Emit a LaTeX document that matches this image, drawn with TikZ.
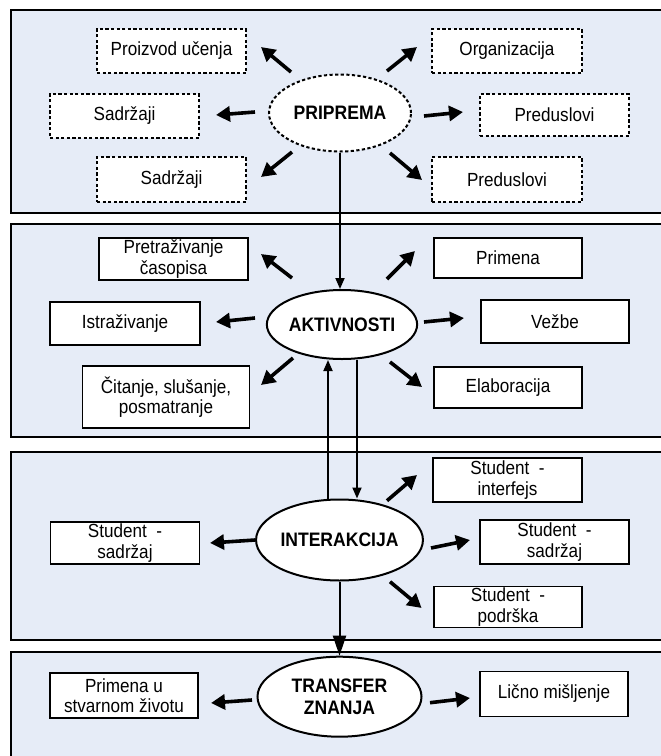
\documentclass[tikz,border=0pt]{standalone}
\usepackage{fontspec}
\setmainfont{Liberation Sans}[FakeStretch=0.9]
\usetikzlibrary{arrows.meta,shapes.geometric}
\definecolor{panelfill}{RGB}{230,236,247}
\tikzset{
  panel/.style={draw=black, line width=2pt, fill=panelfill},
  box/.style={draw=black, line width=1.8pt, fill=white, rectangle, inner sep=0pt, align=center,
    font=\fontsize{19}{20.5}\selectfont},
  dbox/.style={box, dash pattern=on 3.2pt off 2.4pt},
  hub/.style={draw=black, line width=2pt, fill=white, ellipse, inner sep=0pt, align=center,
    font=\bfseries\fontsize{19.5}{22}\selectfont},
  dhub/.style={hub, dash pattern=on 3.2pt off 2.4pt},
  spoke/.style={line width=3.6pt, -{Triangle[length=14pt,width=15pt]}},
  flow/.style={line width=1.8pt, -{Triangle[length=11pt,width=9pt]}},
  bigflow/.style={line width=2pt, -{Triangle[length=20pt,width=13pt]}},
}
\begin{document}
\begin{tikzpicture}[x=1pt,y=-1pt]
\useasboundingbox (0,0) rectangle (661,756);
\clip (0,0) rectangle (661,756);

% background bands
\draw[panel] (11,10) rectangle (690,212.5);
\draw[panel] (11,224) rectangle (690,437);
\draw[panel] (11,452) rectangle (690,640);
\draw[panel] (11,652) rectangle (690,800);

% --- PRIPREMA ---
\node[dhub, minimum width=142pt, minimum height=77pt] (prip) at (340,113) {PRIPREMA};
\node[dbox, minimum width=149pt, minimum height=44pt] (pu) at (171.5,51) {Proizvod učenja};
\node[dbox, minimum width=150pt, minimum height=44pt] (org) at (507,51) {Organizacija};
\node[dbox, minimum width=149pt, minimum height=44pt] (sadL) at (124.5,116) {Sadržaji};
\node[dbox, minimum width=149pt, minimum height=42pt] (predR) at (554.5,115) {Preduslovi};
\node[dbox, minimum width=149pt, minimum height=45pt] (sadB) at (171.5,179.5) {Sadržaji};
\node[dbox, minimum width=150pt, minimum height=45pt] (predB) at (507,179.5) {Preduslovi};

% --- AKTIVNOSTI ---
\node[hub, minimum width=146pt, minimum height=69pt] (akt) at (342,324.5) {AKTIVNOSTI};
\node[box, minimum width=149pt, minimum height=42pt] (pret) at (173.5,259) {Pretraživanje\\časopisa};
\node[box, minimum width=148pt, minimum height=40pt] (prim) at (508,258) {Primena};
\node[box, minimum width=150pt, minimum height=43pt] (istr) at (125,323.5) {Istraživanje};
\node[box, minimum width=148pt, minimum height=43pt] (vez) at (555,321.5) {Vežbe};
\node[box, minimum width=167pt, minimum height=62pt] (cit) at (166,397) {Čitanje, slušanje,\\posmatranje};
\node[box, minimum width=148pt, minimum height=41pt] (elab) at (508,387.5) {Elaboracija};

% --- INTERAKCIJA ---
\node[hub, minimum width=164pt, minimum height=81pt] (inter) at (339.5,540) {INTERAKCIJA};
\node[box, minimum width=149pt, minimum height=44pt] (sint) at (507.5,480) {Student~ -\\interfejs};
\node[box, minimum width=149pt, minimum height=42pt] (ssL) at (125,543) {Student~ -\\sadržaj};
\node[box, minimum width=149pt, minimum height=44pt] (ssR) at (554.5,542) {Student~ -\\sadržaj};
\node[box, minimum width=148pt, minimum height=41pt] (spod) at (508,607) {Student~ -\\podrška};

% --- TRANSFER ZNANJA ---
\node[hub, minimum width=164pt, minimum height=80pt] (trans) at (339.5,696.7) {TRANSFER\\ZNANJA};
\node[box, minimum width=148pt, minimum height=45pt] (pu2) at (124,695.5) {Primena u\\stvarnom životu};
\node[box, minimum width=148pt, minimum height=45pt] (lm) at (554,694) {Lično mišljenje};

% spoke end points
\coordinate (a1s) at (291,72);    \coordinate (a1e) at (261,47);
\coordinate (a2s) at (387,71);    \coordinate (a2e) at (417,47);
\coordinate (a3s) at (255,112);   \coordinate (a3e) at (216,115);
\coordinate (a4s) at (424,116);   \coordinate (a4e) at (463,112);
\coordinate (a5s) at (292,152);   \coordinate (a5e) at (261,177);
\coordinate (a6s) at (390,153);   \coordinate (a6e) at (422,180);

\coordinate (b1s) at (292,278);   \coordinate (b1e) at (261,254);
\coordinate (b2s) at (387,279);   \coordinate (b2e) at (415,251);
\coordinate (b3s) at (255,318);   \coordinate (b3e) at (216,322);
\coordinate (b4s) at (424,322);   \coordinate (b4e) at (464,318);
\coordinate (b5s) at (293,358);   \coordinate (b5e) at (261,385);
\coordinate (b6s) at (390,362);   \coordinate (b6e) at (422,387);

\coordinate (c1s) at (387,500.7); \coordinate (c1e) at (417,475);
\coordinate (c2s) at (255,540);   \coordinate (c2e) at (210,543);
\coordinate (c3s) at (431,548);   \coordinate (c3e) at (470,540);
\coordinate (c4s) at (390,581.7); \coordinate (c4e) at (421.6,608);

\coordinate (d1s) at (252,700);   \coordinate (d1e) at (211,703);
\coordinate (d2s) at (430,702.7); \coordinate (d2e) at (470,698);

\foreach \k in {a1,a2,a3,a4,a5,a6,b1,b2,b3,b4,b5,b6,c1,c2,c3,c4,d1,d2}
  \draw[spoke] (\k s) -- (\k e);

% links between stages
\coordinate (upx) at (328,0);
\coordinate (dnx) at (357,0);
\draw[flow] (prip.south) -- (prip.south |- akt.north);
\draw[flow] (inter.north -| upx) -- (akt.south -| upx);
\draw[flow] (akt.south -| dnx) -- (inter.north -| dnx);
\draw[bigflow] (inter.south) -- (trans.north);
\end{tikzpicture}
\end{document}
